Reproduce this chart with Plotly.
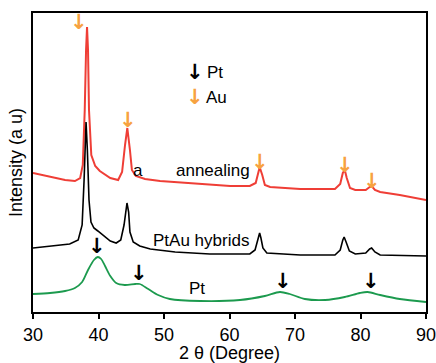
import plotly.graph_objects as go

# 2theta (degree) and intensity (a.u., offset stacked)
x_anneal = [30.0, 32.6, 34.9, 36.4, 37.2, 37.6, 37.9, 38.1, 38.25, 38.4, 38.55, 38.9, 39.5, 40.2, 41.8, 43.0,
            43.6, 44.05, 44.4, 44.8, 45.1, 45.7, 47.1, 49.4, 54.0, 60.1, 63.1, 64.0, 64.5, 64.6, 65.0, 65.4,
            66.2, 70.8, 76.1, 76.9, 77.3, 77.6, 77.9, 78.4, 79.2, 80.8, 81.4, 81.7, 82.2, 83.0, 86.0, 90.0]
y_anneal = [139, 135, 132, 131, 134, 147, 202, 262, 285, 262, 202, 157, 146, 141, 134, 132,
            140, 167, 184, 162, 142, 136, 133, 131, 129, 126, 126, 129, 142, 145, 137, 127,
            125, 123, 123, 128, 139, 142, 134, 124, 122, 122, 125, 126, 122, 120, 117, 112]

x_hybrid = [30.0, 32.6, 35.6, 36.9, 37.5, 37.8, 38.0, 38.1, 38.3, 38.55, 38.85, 39.3, 39.9, 40.8, 41.8, 42.7,
            43.4, 43.9, 44.2, 44.35, 44.6, 44.8, 45.3, 46.3, 47.9, 51.7, 57.0, 63.1, 63.9, 64.4, 64.6, 64.8,
            65.1, 65.7, 70.8, 76.1, 76.9, 77.3, 77.5, 77.8, 78.3, 79.2, 80.8, 81.4, 81.7, 82.2, 83.0, 90.0]
y_hybrid = [64, 66, 68, 72, 87, 132, 172, 190, 162, 112, 90, 84, 81, 76, 71, 69,
            72, 87, 104, 109, 100, 80, 70, 66, 63, 60, 58, 58, 62, 74, 79, 74,
            64, 59, 57, 57, 62, 72, 75, 70, 61, 58, 59, 63, 64, 60, 57, 56]

x_pt = [30.0, 32.6, 34.9, 36.4, 37.5, 38.4, 39.3, 39.9, 40.4, 41.0, 41.8, 42.7, 44.0, 45.6, 46.3, 47.6,
        49.1, 50.9, 55.5, 61.6, 65.4, 67.7, 69.2, 71.5, 74.6, 77.6, 79.9, 81.1, 83.0, 86.0, 90.0]
y_pt = [18, 19, 21, 24, 30, 42, 52, 55, 53, 46, 36, 29, 27, 28, 28, 23,
        17, 13, 11, 12, 16, 20, 18, 13, 12, 15, 19, 20, 17, 13, 10]

x_ticks = [30, 40, 50, 60, 70, 80, 90]

RED = "#EF3E36"
GREEN = "#1C9A4E"
ORANGE = "#F7A240"
FONT = "Arial, Liberation Sans, sans-serif"

fig = go.Figure()
fig.add_trace(go.Scatter(x=x_anneal, y=y_anneal, mode="lines", line=dict(color=RED, width=2), name="annealing"))
fig.add_trace(go.Scatter(x=x_hybrid, y=y_hybrid, mode="lines", line=dict(color="black", width=1.6), name="PtAu hybrids"))
fig.add_trace(go.Scatter(x=x_pt, y=y_pt, mode="lines", line=dict(color=GREEN, width=1.8, shape="spline", smoothing=0.8), name="Pt"))

def arrow(x, y, color):
    fig.add_annotation(x=x, y=y, text="<b>↓</b>", showarrow=False,
                       font=dict(family="DejaVu Sans", size=21, color=color))

# Au arrows
for ax_, ay_ in [(37.0, 290), (44.5, 192), (64.65, 150), (77.6, 147), (81.75, 131)]:
    arrow(ax_, ay_, ORANGE)
# Pt arrows
for ax_, ay_ in [(39.8, 66), (46.2, 39), (68.2, 31), (81.6, 31)]:
    arrow(ax_, ay_, "black")

# legend-like labels
arrow(54.7, 240, "black")
arrow(54.7, 215, ORANGE)
txt = dict(family=FONT, size=17, color="black")
fig.add_annotation(x=56.3, y=240, text="Pt", showarrow=False, xanchor="left", font=txt)
fig.add_annotation(x=56.1, y=215, text="Au", showarrow=False, xanchor="left", font=txt)

fig.add_annotation(x=46.0, y=142, text="a", showarrow=False, font=txt)
fig.add_annotation(x=57.5, y=142, text="annealing", showarrow=False, font=txt)
fig.add_annotation(x=55.7, y=72, text="PtAu hybrids", showarrow=False, font=txt)
fig.add_annotation(x=55.0, y=24, text="Pt", showarrow=False, font=txt)

fig.update_layout(
    width=436, height=363,
    margin=dict(l=33, r=10, t=13, b=51),
    plot_bgcolor="white", paper_bgcolor="white",
    showlegend=False,
    font=dict(family=FONT, size=17, color="black"),
    xaxis=dict(range=[30, 90], tickvals=x_ticks, ticks="outside", ticklen=5, tickwidth=1.5,
               tickcolor="black", showline=True, linecolor="black", linewidth=2, mirror=True,
               showgrid=False, zeroline=False, tickfont=dict(size=18), automargin=False,
               ticklabeloverflow="allow",
               title=dict(text="2 θ (Degree)", font=dict(size=18), standoff=2)),
    yaxis=dict(range=[0, 299], showticklabels=False, ticks="", showline=True, linecolor="black",
               linewidth=2, mirror=True, showgrid=False, zeroline=False, automargin=False,
               title=dict(text="Intensity (a u)", font=dict(size=18), standoff=4)),
)

fig.write_html("out.html", config={"displayModeBar": False},
               post_script="document.body.style.margin='0px';")
